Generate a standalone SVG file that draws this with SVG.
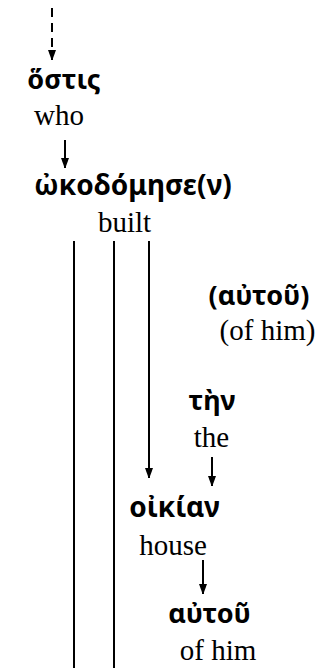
<svg xmlns="http://www.w3.org/2000/svg" width="325" height="668" viewBox="0 0 325 668">
<style>
.gk{font-family:"Noto Sans","DejaVu Sans",sans-serif;font-weight:bold;font-size:27px;text-anchor:middle;fill:#000}
.en{font-family:"Liberation Serif","Times New Roman",serif;font-size:29px;text-anchor:middle;fill:#000}
.ln{stroke:#000;stroke-width:2;fill:none}
.dash{stroke-dasharray:9,6}
</style>
<defs>
<marker id="ah" markerWidth="10" markerHeight="12" viewBox="0 0 10 12" refX="10" refY="5" orient="auto" markerUnits="userSpaceOnUse">
<path d="M0,1 L11,5 L0,9 Z" fill="#000"/>
</marker>
</defs>
<g id="connectors">
<line class="ln dash" x1="52" y1="8" x2="52" y2="60" marker-end="url(#ah)"/>
<line class="ln" x1="65" y1="140" x2="65" y2="168" marker-end="url(#ah)"/>
<line class="ln" x1="74" y1="241" x2="74" y2="668"/>
<line class="ln" x1="114" y1="241" x2="114" y2="668"/>
<line class="ln" x1="149" y1="241" x2="149" y2="478" marker-end="url(#ah)"/>
<line class="ln" x1="212" y1="457" x2="212" y2="486" marker-end="url(#ah)"/>
<line class="ln" x1="203" y1="560" x2="203" y2="594" marker-end="url(#ah)"/>
</g>
<g id="n-hostis">
<text class="gk" x="64" y="89">ὅστις</text>
<text class="en" x="59" y="125">who</text>
</g>
<g id="n-oikodomese">
<text class="gk" x="133" y="195" style="font-size:28px">ὠκοδόμησε(ν)</text>
<text class="en" x="124.5" y="232">built</text>
</g>
<g id="n-autou1">
<text class="gk" x="259" y="305">(αὐτοῦ)</text>
<text class="en" x="267.5" y="340">(of him)</text>
</g>
<g id="n-ten">
<text class="gk" x="212" y="410">τὴν</text>
<text class="en" x="211.5" y="447">the</text>
</g>
<g id="n-oikian">
<text class="gk" x="174.5" y="517" style="font-size:28px">οἰκίαν</text>
<text class="en" x="173" y="555">house</text>
</g>
<g id="n-autou2">
<text class="gk" x="209.5" y="623">αὐτοῦ</text>
<text class="en" x="218" y="660">of him</text>
</g>
</svg>
